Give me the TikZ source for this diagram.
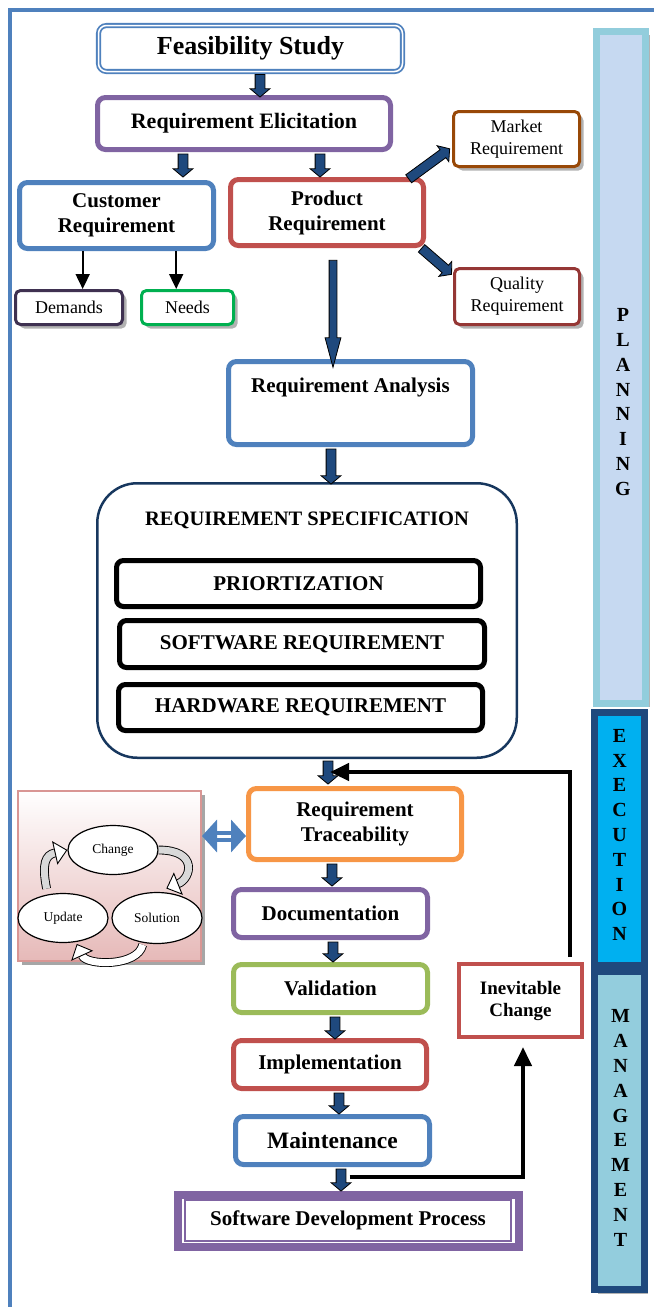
\documentclass[tikz,border=0pt]{standalone}
\usepackage{fontspec}
\setmainfont{Liberation Serif}
\usepackage{xcolor}
\usetikzlibrary{positioning}
\usetikzlibrary{calc}
\usetikzlibrary{arrows.meta}
\usetikzlibrary{shapes.arrows}
\usetikzlibrary{shapes.geometric}
\usetikzlibrary{shadows}

\definecolor{frameblue}{HTML}{4F81BD}
\definecolor{arrowblue}{HTML}{1F497D}
\definecolor{elicitpurple}{HTML}{8064A2}
\definecolor{prodred}{HTML}{C0504D}
\definecolor{marketbrown}{HTML}{984807}
\definecolor{qualityred}{HTML}{953735}
\definecolor{demandpurple}{HTML}{3F3151}
\definecolor{needgreen}{HTML}{00B050}
\definecolor{specblue}{HTML}{17375E}
\definecolor{traceorange}{HTML}{F79646}
\definecolor{validgreen}{HTML}{9BBB59}
\definecolor{planteal}{HTML}{92CDDC}
\definecolor{planfill}{HTML}{C6D9F1}
\definecolor{execcyan}{HTML}{00B0F0}
\definecolor{mgmtfill}{HTML}{93CDDD}
\definecolor{cyclepink}{HTML}{E6B9B8}
\definecolor{cycleborder}{HTML}{D99694}

% block arrow between two points: [options]{name}{from}{to}
\newcommand{\flowarrow}[4][]{%
  \path let \p1=(#3), \p2=(#4), \n1={veclen(\x2-\x1,\y2-\y1)}, \n2={atan2(\y2-\y1,\x2-\x1)} in
    node[blockarrow, #1, minimum height=\n1, rotate=\n2] (#2) at ($(\p1)!.5!(\p2)$) {};}

\begin{document}
\begin{tikzpicture}[x=1pt, y=-1pt,
		% Style definitions
		phase/.style={draw, line width=5pt, rounded corners=8pt, fill=white, align=center, inner sep=2pt, font=\fontsize{21}{25}\selectfont\bfseries},
		smallbox/.style={draw, line width=3pt, rounded corners=5pt, fill=white, align=center, inner sep=1pt, font=\fontsize{18}{22}\selectfont, drop shadow={shadow xshift=4pt, shadow yshift=-4pt, fill=black!30, opacity=1}},
		specbox/.style={draw=black, line width=5pt, rounded corners=7pt, fill=white, font=\fontsize{21}{25}\selectfont\bfseries},
		sidebar/.style={draw, line width=7pt, minimum width=50pt},
		barletters/.style={align=center, font=\fontsize{20}{24.8}\selectfont\bfseries},
		cyclenode/.style={ellipse, draw=black, line width=1.2pt, fill=white, minimum width=90pt, minimum height=49pt, inner sep=0pt, font=\fontsize{13.5}{15}\selectfont},
		blockarrow/.style={single arrow, draw=black, fill=arrowblue, line width=0.8pt, inner sep=0pt, inner ysep=4.5pt, single arrow head extend=5pt, single arrow tip angle=100},
		longarrow/.style={inner ysep=3.5pt, single arrow head extend=4pt, single arrow tip angle=30},
		thinarrow/.style={-{Triangle[length=15pt, width=14pt]}, line width=1.8pt},
		feedback/.style={-{Triangle[length=19pt, width=17pt]}, line width=4.5pt},
		twoway/.style={{Triangle[length=15pt, width=32pt]}-{Triangle[length=15pt, width=32pt]}, draw=frameblue, line width=4pt, double=white, double distance=3pt},
		cyclearrow/.style={-{Triangle[length=13pt, width=24pt, fill=white]}, line width=0.9pt, double=gray!30, double distance=7pt},
		]
		\useasboundingbox (0,0) rectangle (654,1307);

		% Outer frame
		\draw[frameblue, line width=4pt] (9.5,1307) -- (9.5,9.5) -- (654,9.5);

		% Side bars
		\node[sidebar, draw=planteal, fill=planfill, minimum width=49pt, minimum height=672pt, drop shadow={shadow xshift=4pt, shadow yshift=-3pt, fill=black!30, opacity=1}] (planning) at (621,367.5) {};
		\node[sidebar, draw=arrowblue, fill=execcyan, minimum height=253pt] (execution) at (619.5,839) {};
		\node[sidebar, draw=arrowblue, fill=mgmtfill, minimum height=318pt, drop shadow={shadow xshift=3pt, shadow yshift=-4pt, fill=black!30, opacity=1}] (management) at (619.5,1130.5) {};
		\node[barletters] (planlabel) at (623,402) {P\\L\\A\\N\\N\\I\\N\\G};
		\node[barletters] (execlabel) at (619.5,835) {E\\X\\E\\C\\U\\T\\I\\O\\N};
		\node[barletters] (mgmtlabel) at (620.5,1128) {M\\A\\N\\A\\G\\E\\M\\E\\N\\T};

		% Row 1-2: study and elicitation
		\node[phase, draw=frameblue, line width=1.8pt, double=white, double distance=1.5pt, minimum width=304pt, minimum height=46pt, font=\fontsize{26}{30}\selectfont\bfseries] (feas) at (250.5,48.5) {Feasibility Study};
		\node[phase, draw=elicitpurple, minimum width=293pt, minimum height=52pt, font=\fontsize{22}{26}\selectfont\bfseries] (elicit) at (244,123.5) {Requirement Elicitation};

		% Row 3: customer and product
		\node[phase, draw=frameblue, minimum width=194pt, minimum height=66pt] (cust) at (116.5,215.5) {Customer\\Requirement};
		\node[phase, draw=prodred, minimum width=193pt, minimum height=66pt] (prod) at (327,212.5) {Product\\Requirement};
		\node[smallbox, draw=marketbrown, minimum width=126pt, minimum height=55pt] (market) at (516.5,139) {Market\\Requirement};
		\node[smallbox, draw=qualityred, minimum width=125pt, minimum height=56pt] (quality) at (517,296.5) {Quality\\Requirement};
		\node[smallbox, draw=demandpurple, minimum width=107pt, minimum height=34pt] (demands) at (69,307.5) {Demands};
		\node[smallbox, draw=needgreen, minimum width=92pt, minimum height=34pt] (needs) at (187.5,307.5) {Needs};

		% Analysis and specification
		\node[phase, draw=frameblue, minimum width=244pt, minimum height=83pt] (analysis) at (350.5,403) {};
		\node[font=\fontsize{21}{25}\selectfont\bfseries] (analysislabel) at (350.5,387) {Requirement Analysis};
		\node[draw=specblue, line width=2.5pt, rounded corners=40pt, fill=white, minimum width=419.5pt, minimum height=274.5pt] (spec) at (307,620.5) {};
		\node[font=\fontsize{20.5}{24}\selectfont\bfseries] (spectitle) at (307,520) {REQUIREMENT SPECIFICATION};
		\node[specbox, minimum width=364pt, minimum height=46pt] (prio) at (298.5,583.5) {PRIORTIZATION};
		\node[specbox, minimum width=365pt, minimum height=47pt] (soft) at (302,644) {SOFTWARE REQUIREMENT};
		\node[specbox, minimum width=364pt, minimum height=46pt] (hard) at (300.5,707.5) {HARDWARE REQUIREMENT};

		% Traceability and change cycle
		\node[phase, draw=traceorange, minimum width=213pt, minimum height=71pt] (trace) at (355,824) {Requirement\\Traceability};
		\node[draw=cycleborder, line width=2pt, top color=white, bottom color=cyclepink, minimum width=183pt, minimum height=170pt, drop shadow={shadow xshift=4pt, shadow yshift=-4pt, fill=black!35, opacity=1}] (cycle) at (109.5,876) {};
		\node[cyclenode] (change) at (113,850) {Change};
		\node[cyclenode] (update) at (63,918) {Update};
		\node[cyclenode, minimum height=51pt] (solution) at (157,918) {Solution};

		% Lower phases
		\node[phase, draw=elicitpurple, minimum width=194pt, minimum height=48pt] (doc) at (330.5,913.5) {Documentation};
		\node[phase, draw=validgreen, minimum width=194pt, minimum height=48pt] (valid) at (330.5,988.5) {Validation};
		\node[phase, draw=prodred, minimum width=193pt, minimum height=48pt] (impl) at (330,1064.5) {Implementation};
		\node[phase, draw=frameblue, minimum width=194pt, minimum height=48pt, font=\fontsize{23.5}{27}\selectfont\bfseries] (maint) at (332.5,1140.5) {Maintenance};
		\node[draw=prodred, line width=4pt, fill=white, minimum width=123pt, minimum height=73pt, align=center, font=\fontsize{19}{22}\selectfont\bfseries] (inev) at (520.5,1000.5) {Inevitable\\Change};
		\node[draw=elicitpurple, line width=8pt, fill=white, minimum width=341pt, minimum height=52pt] (sdp) at (348.5,1221) {};
		\node[draw=elicitpurple, line width=2pt, minimum width=326pt, minimum height=41pt, font=\fontsize{21}{25}\selectfont\bfseries] (sdpinner) at (348,1220.5) {Software Development Process};

		% Block arrows - main flow
		\flowarrow{a1}{[xshift=9.5pt]feas.south}{[xshift=16pt]elicit.north}
		\flowarrow{a2}{[xshift=-61pt]elicit.south}{[xshift=66.5pt,yshift=5pt]cust.north}
		\flowarrow{a3}{[xshift=76pt]elicit.south}{[xshift=-7pt,yshift=2pt]prod.north}
		\flowarrow{a4}{[xshift=-19pt,yshift=-3pt]prod.north east}{[xshift=-4pt,yshift=-11pt]market.west}
		\flowarrow{a5}{[xshift=-6pt,yshift=1pt]prod.south east}{[xshift=-3pt,yshift=-6pt]quality.north west}
		\flowarrow[longarrow]{a6}{[xshift=6pt,yshift=-5pt]prod.south}{[xshift=-17.5pt,yshift=-1pt]analysis.north}
		\flowarrow{a7}{[xshift=-19.5pt]analysis.south}{[xshift=24pt]spec.north}
		\flowarrow{a8}{[xshift=21pt]spec.south}{[xshift=-27pt,yshift=4pt]trace.north}
		\flowarrow{a9}{[xshift=-23pt]trace.south}{[xshift=1.5pt,yshift=3pt]doc.north}
		\flowarrow{a10}{[xshift=2.5pt]doc.south}{[xshift=2.5pt,yshift=2pt]valid.north}
		\flowarrow{a11}{[xshift=4.5pt]valid.south}{[xshift=5pt,yshift=1pt]impl.north}
		\flowarrow{a12}{[xshift=9pt]impl.south}{[xshift=6.5pt,yshift=2pt]maint.north}
		\flowarrow{a13}{[xshift=8.5pt]maint.south}{[xshift=-7.5pt,yshift=2pt]sdp.north}

		% Customer requirement split
		\coordinate (dstart) at ($(cust.south west)!.33!(cust.south east)$);
		\coordinate (nstart) at ($(cust.south west)!.80!(cust.south east)$);
		\draw[thinarrow] (dstart) -- (dstart |- demands.north);
		\draw[thinarrow] (nstart) -- (nstart |- needs.north);

		% Feedback loop
		\coordinate (loopstart) at ($(maint.south)+(17,10)$);
		\coordinate (rejoin) at ($(spec.south)+(23,13)$);
		\draw[feedback] (loopstart) -| ([xshift=2.5pt,yshift=-8pt]inev.south);
		\draw[feedback] ([xshift=49.5pt,yshift=5pt]inev.north) |- (rejoin);

		% Change cycle
		\draw[twoway] ([yshift=40pt]cycle.east) -- ([yshift=-12pt]trace.west);
		\draw[cyclearrow] (change.east) .. controls +(40,0) and +(25,-10) .. ([yshift=4pt]solution.70);
		\draw[cyclearrow] ([yshift=6pt]update.125) .. controls +(-5,-25) and +(-22,5) .. (change.west);
		\draw[cyclearrow, double=white] ([yshift=-2pt]solution.240) .. controls +(-5,22) and +(10,22) .. ([yshift=-2pt]update.300);

	\end{tikzpicture}
\end{document}
